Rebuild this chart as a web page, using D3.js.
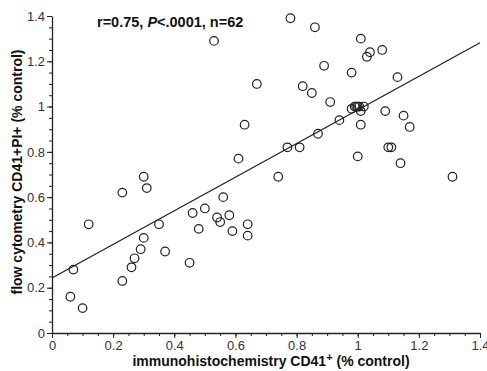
<!DOCTYPE html>
<html>
<head>
<meta charset="utf-8">
<script src="https://cdn.jsdelivr.net/npm/d3@7"></script>
<style>
  body { margin: 0; background: #fff; }
  svg { display: block; font-family: "Liberation Sans", Arial, sans-serif; }
</style>
</head>
<body>
<svg id="chart" width="487" height="371"></svg>
<script>

// immunohistochemistry CD41+ (x) vs flow cytometry CD41+PI+ (y), % control
const ihc = [0.06, 0.10, 0.07, 0.12, 0.23, 0.23, 0.26, 0.27, 0.29, 0.30,
             0.30, 0.31, 0.35, 0.37, 0.45, 0.46, 0.48, 0.50, 0.54, 0.55,
             0.56, 0.58, 0.59, 0.64, 0.64, 0.53, 0.61, 0.63, 0.67, 0.74,
             0.77, 0.78, 0.81, 0.82, 0.85, 0.86, 0.87, 0.89, 0.91, 0.94,
             0.98, 0.98, 0.99, 1.00, 1.02, 1.01, 1.01, 1.00, 1.01, 1.03,
             1.04, 1.08, 1.09, 1.10, 1.11, 1.13, 1.14, 1.15, 1.17, 1.31,
             0.995, 1.005];
const flow = [0.16, 0.11, 0.28, 0.48, 0.62, 0.23, 0.29, 0.33, 0.37, 0.42,
              0.69, 0.64, 0.48, 0.36, 0.31, 0.53, 0.46, 0.55, 0.51, 0.49,
              0.60, 0.52, 0.45, 0.48, 0.43, 1.29, 0.77, 0.92, 1.10, 0.69,
              0.82, 1.39, 0.82, 1.09, 1.06, 1.35, 0.88, 1.18, 1.02, 0.94,
              1.15, 0.99, 1.00, 1.00, 1.00, 0.98, 0.92, 0.78, 1.30, 1.22,
              1.24, 1.25, 0.98, 0.82, 0.82, 1.13, 0.75, 0.96, 0.91, 0.69,
              1.00, 1.00];

// regression line endpoints (intercept, value at x = 1.4)
const fitX = [0, 1.4];
const fitY = [0.243, 1.282];

const majorTicks = [0, 0.2, 0.4, 0.6, 0.8, 1, 1.2, 1.4];
const minorTicks = d3.range(0, 1.4001, 0.05).map(v => +v.toFixed(2));


const MARGIN = { left: 52, right: 7, top: 16, bottom: 38 };
const WIDTH = 487, HEIGHT = 371;
const INK = "#222";

const svg = d3.select("#chart");

const x = d3.scaleLinear()
    .domain([0, 1.4])
    .range([MARGIN.left, WIDTH - MARGIN.right]);
const y = d3.scaleLinear()
    .domain([0, 1.4])
    .range([HEIGHT - MARGIN.bottom, MARGIN.top]);

const fmt = d => d3.format("~g")(d);

// minor ticks first, then major axis with labels on top
svg.append("g")
    .attr("transform", "translate(0," + y(0) + ")")
    .call(d3.axisBottom(x).tickValues(minorTicks).tickSize(3).tickFormat(""))
    .call(g => g.select(".domain").remove());
svg.append("g")
    .attr("transform", "translate(" + x(0) + ",0)")
    .call(d3.axisLeft(y).tickValues(minorTicks).tickSize(3).tickFormat(""))
    .call(g => g.select(".domain").remove());

let xAxis = svg.append("g")
    .attr("transform", "translate(0," + y(0) + ")")
    .call(d3.axisBottom(x).tickValues(majorTicks).tickSize(5)
        .tickSizeOuter(0).tickPadding(3).tickFormat(fmt));
let yAxis = svg.append("g")
    .attr("transform", "translate(" + x(0) + ",0)")
    .call(d3.axisLeft(y).tickValues(majorTicks).tickSize(5)
        .tickSizeOuter(0).tickPadding(2).tickFormat(fmt));

svg.selectAll(".tick line").attr("stroke", INK).attr("stroke-width", 1);
svg.selectAll(".domain").attr("stroke", INK).attr("stroke-width", 1.3);
svg.selectAll(".tick text")
    .attr("fill", "#333")
    .attr("font-size", 13)
    .attr("font-family", "'Liberation Sans', Arial, sans-serif");

// regression line
svg.append("line")
    .attr("x1", x(fitX[0])).attr("y1", y(fitY[0]))
    .attr("x2", x(fitX[1])).attr("y2", y(fitY[1]))
    .attr("stroke", INK)
    .attr("stroke-width", 1.3);

// data points
svg.append("g")
    .selectAll("circle")
    .data(ihc.map((v, i) => [v, flow[i]]))
    .enter()
    .append("circle")
        .attr("cx", d => x(d[0]))
        .attr("cy", d => y(d[1]))
        .attr("r", 4.3)
        .attr("fill", "none")
        .attr("stroke", INK)
        .attr("stroke-width", 1.2);

// statistics annotation
let note = svg.append("text")
    .attr("x", 97).attr("y", 27)
    .attr("font-size", 14.5)
    .attr("font-weight", "bold")
    .attr("fill", "#111");
note.append("tspan").text("r=0.75, ");
note.append("tspan").attr("font-style", "italic").text("P");
note.append("tspan").text("<.0001, n=62");

// axis titles
let xTitle = svg.append("text")
    .attr("x", 271).attr("y", 366)
    .attr("text-anchor", "middle")
    .attr("font-size", 14)
    .attr("font-weight", "bold")
    .attr("fill", "#111");
xTitle.append("tspan").text("immunohistochemistry CD41");
xTitle.append("tspan").attr("dy", -5).attr("font-size", 11).text("+");
xTitle.append("tspan").attr("dy", 5).text(" (% control)");

svg.append("text")
    .attr("transform", "translate(21.5,172) rotate(-90)")
    .attr("text-anchor", "middle")
    .attr("font-size", 14)
    .attr("font-weight", "bold")
    .attr("fill", "#111")
    .text("flow cytometry CD41+PI+ (% control)");

</script>
</body>
</html>
